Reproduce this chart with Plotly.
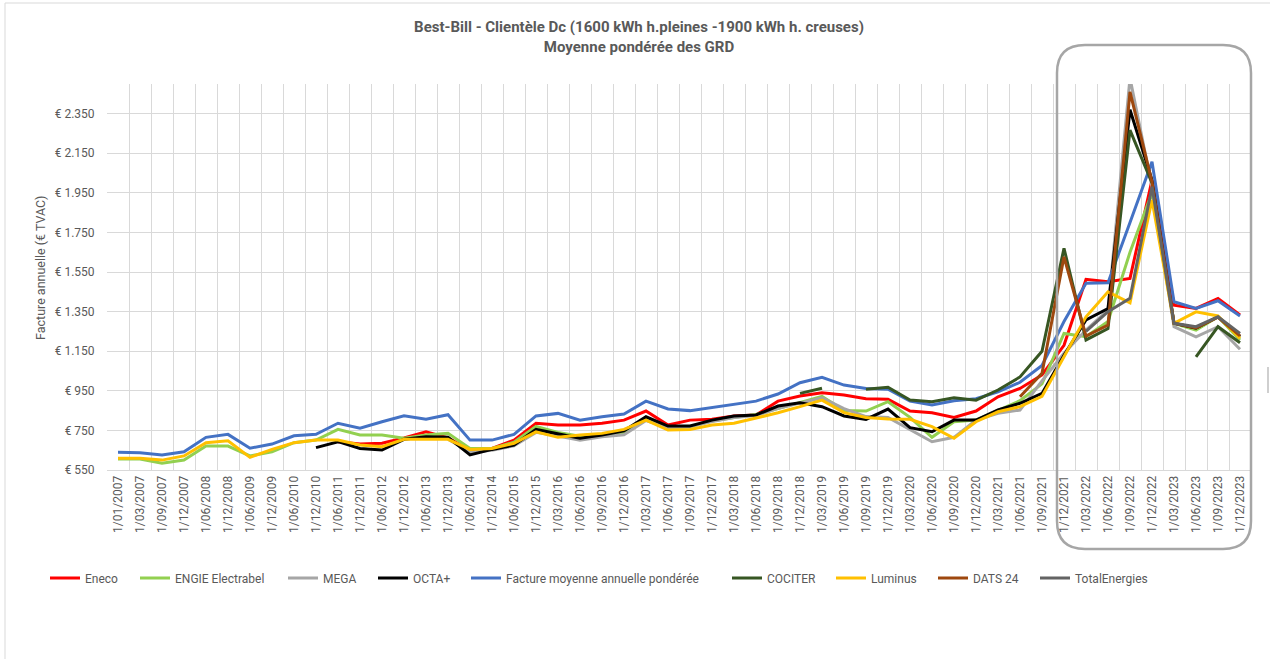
import plotly.graph_objects as go

categories = [
    "1/01/2007", "1/03/2007", "1/09/2007", "1/12/2007",
    "1/06/2008", "1/12/2008", "1/06/2009", "1/12/2009",
    "1/06/2010", "1/12/2010", "1/06/2011", "1/12/2011",
    "1/06/2012", "1/12/2012", "1/06/2013", "1/12/2013",
    "1/06/2014", "1/12/2014", "1/06/2015", "1/12/2015",
    "1/03/2016", "1/06/2016", "1/09/2016", "1/12/2016",
    "1/03/2017", "1/06/2017", "1/09/2017", "1/12/2017",
    "1/03/2018", "1/06/2018", "1/09/2018", "1/12/2018",
    "1/03/2019", "1/06/2019", "1/09/2019", "1/12/2019",
    "1/03/2020", "1/06/2020", "1/09/2020", "1/12/2020",
    "1/03/2021", "1/06/2021", "1/09/2021", "1/12/2021",
    "1/03/2022", "1/06/2022", "1/09/2022", "1/12/2022",
    "1/03/2023", "1/06/2023", "1/09/2023", "1/12/2023",
]

N = None

eneco = [N, N, N, N, N, N, N, N, N, N,
         693, 681, 685, 712, 743, 712, 651, 659, 701, 786,
         777, 777, 786, 802, 848, 777, 802, 806, 823, 828,
         898, 924, 940, 929, 910, 907, 848, 839, 816, 848,
         920, 962, 1030, 1180, 1513, 1501, 1518, 2015, 1383, 1366,
         1417, 1333]

engie = [606, 606, 584, 600, 671, 671, 621, 642, 688, 701,
         755, 727, 727, 710, 727, 735, 659, 659, 690, 770,
         740, 720, 730, 740, 812, 765, 768, 798, 815, 830,
         860, 890, 922, 850, 848, 895, 816, 715, 794, 802,
         853, 900, 985, 1240, 1223, 1300, 1650, 1950, 1291, 1257,
         1324, 1207]

mega = [N, N, N, N, N, N, N, N, N, N,
        N, N, N, N, N, 705, 640, 650, 672, 740,
        722, 700, 718, 728, 800, 765, 768, 795, 815, 825,
        862, 888, 915, 860, 820, 815, 752, 693, 715, 802,
        836, 853, 1000, 1140, 1257, 1358, 2530, 1981, 1274, 1223,
        1274, 1160]

octa = [N, N, N, N, N, N, N, N, N, 663,
        693, 659, 651, 705, 718, 715, 626, 654, 676, 755,
        732, 710, 727, 748, 819, 772, 772, 802, 823, 828,
        873, 890, 870, 823, 806, 858, 764, 743, 802, 802,
        853, 887, 937, 1130, 1308, 1366, 2370, 2015, 1291, 1266,
        1324, 1223]

facture = [640, 637, 626, 642, 715, 730, 660, 681, 723, 730,
           786, 761, 794, 824, 806, 829, 701, 701, 730, 823,
           836, 802, 819, 833, 898, 858, 850, 865, 882, 898,
           934, 991, 1018, 979, 962, 958, 898, 878, 900, 910,
           945, 993, 1078, 1300, 1493, 1496, 1800, 2107, 1400, 1366,
           1405, 1328]

cociter = [N, N, N, N, N, N, N, N, N, N,
           N, N, N, N, N, N, N, N, N, N,
           N, N, N, N, N, N, N, N, N, N,
           N, 937, 963, N, 958, 968, 903, 895, 915, 903,
           954, 1020, 1150, 1670, 1207, 1265, 2267, 2000, N, 1122,
           1274, 1193]

luminus = [609, 609, 600, 621, 688, 698, 614, 654, 688, 701,
           701, 676, 668, 705, 705, 705, 654, 659, 685, 743,
           715, 727, 735, 755, 802, 752, 755, 777, 786, 811,
           839, 870, 903, 840, 815, 808, 806, 769, 710, 794,
           844, 870, 922, 1122, 1324, 1450, 1395, 1914, 1291, 1349,
           1328, 1215]

dats24 = [N] * 41 + [920, 1038, 1627, 1227, 1282, 2460, 2006, 1291, 1268, 1322, 1228]

totalenergies = [N] * 44 + [1250, 1350, 1417, 1981, 1291, 1274, 1324, 1240]

series_names = ["Eneco", "ENGIE Electrabel", "MEGA", "OCTA+",
                "Facture moyenne annuelle pondérée", "COCITER", "Luminus",
                "DATS 24", "TotalEnergies"]
series_values = [eneco, engie, mega, octa, facture, cociter, luminus,
                 dats24, totalenergies]
series_colors = ["#FF0000", "#92D050", "#A6A6A6", "#000000", "#4472C4",
                 "#375623", "#FFC000", "#9E480E", "#636363"]
# left edge (px) of each legend entry's line sample
legend_x_px = [50, 140, 288, 378, 471, 732, 836, 938, 1040]

y_ticks = [550, 750, 950, 1150, 1350, 1550, 1750, 1950, 2150, 2350]
y_ticktext = ["€ " + f"{v:,}".replace(",", ".") for v in y_ticks]

FONT = "Roboto, sans-serif"
TXT = "#595959"

W, H = 1270, 659
PL, PR, PT, PB = 107, 1251, 84, 470

fig = go.Figure()
legend_layout = {}
for k, (name, vals, color) in enumerate(zip(series_names, series_values, series_colors)):
    lid = "legend" if k == 0 else f"legend{k+1}"
    fig.add_trace(go.Scatter(
        x=categories, y=vals, name=name, mode="lines",
        line=dict(color=color, width=3),
        connectgaps=False, legend=lid, showlegend=True,
    ))
    legend_layout[lid] = dict(
        orientation="h", xref="container", yref="container",
        x=(legend_x_px[k] - 5) / W, xanchor="left",
        y=1 - 578 / H, yanchor="middle",
        font=dict(family=FONT, size=12, color=TXT),
        bgcolor="rgba(0,0,0,0)", itemwidth=30, visible=True,
    )


def px_x(p):
    return (p - PL) / (PR - PL)


def px_y(p):
    return (PB - p) / (PB - PT)


# rounded highlight rectangle
x0, x1 = px_x(1057), px_x(1251)
y0, y1 = px_y(549), px_y(45)
rx, ry = 28 / (PR - PL), 28 / (PB - PT)
path = (f"M {x0+rx},{y1} L {x1-rx},{y1} Q {x1},{y1} {x1},{y1-ry} "
        f"L {x1},{y0+ry} Q {x1},{y0} {x1-rx},{y0} "
        f"L {x0+rx},{y0} Q {x0},{y0} {x0},{y0+ry} "
        f"L {x0},{y1-ry} Q {x0},{y1} {x0+rx},{y1} Z")

shapes = [
    dict(type="path", xref="paper", yref="paper", path=path,
         line=dict(color="#A6A6A6", width=2.5), layer="above"),
    dict(type="rect", xref="paper", yref="paper",
         x0=px_x(5), x1=px_x(1400), y0=px_y(800), y1=px_y(3),
         line=dict(color="#D9D9D9", width=1), layer="below"),
    dict(type="line", xref="paper", yref="paper",
         x0=px_x(1268), x1=px_x(1268), y0=px_y(393), y1=px_y(367),
         line=dict(color="#BFBFBF", width=1.5)),
]

fig.update_layout(
    width=W, height=H,
    showlegend=True,
    margin=dict(l=PL, r=W - PR, t=PT, b=H - PB, autoexpand=False),
    paper_bgcolor="white", plot_bgcolor="white",
    font=dict(family=FONT, color=TXT, size=12),
    title=dict(
        text="<b>Best-Bill - Clientèle Dc (1600 kWh h.pleines -1900 kWh h. creuses)</b><br><b>Moyenne pondérée des GRD</b>",
        x=639 / W, xanchor="center", xref="container",
        y=1 - 32 / H, yanchor="top", yref="container",
        font=dict(family=FONT, size=15, color=TXT),
    ),
    xaxis=dict(
        type="category", tickson="boundaries",
        showgrid=True, gridcolor="#D9D9D9", gridwidth=1,
        showline=True, linecolor="#D9D9D9", linewidth=1,
        tickangle=-90, ticks="outside", ticklen=5, tickcolor="rgba(0,0,0,0)",
        tickfont=dict(family=FONT, size=12, color=TXT),
        range=[-0.5, 51.5], automargin=False,
    ),
    yaxis=dict(
        range=[550, 2500],
        tickvals=y_ticks, ticktext=y_ticktext,
        showgrid=True, gridcolor="#D9D9D9", gridwidth=1,
        zeroline=False, showline=False,
        ticks="outside", ticklen=9, tickcolor="rgba(0,0,0,0)",
        tickfont=dict(family=FONT, size=12, color=TXT),
        automargin=False,
    ),
    shapes=shapes,
    annotations=[dict(
        text="Facture annuelle (€ TVAC)", textangle=-90,
        xref="paper", yref="paper", x=px_x(40), y=px_y(268),
        xanchor="center", yanchor="middle", showarrow=False,
        font=dict(family=FONT, size=12.5, color=TXT),
    )],
    **legend_layout,
)

fig.write_html("out.html", config={"displayModeBar": False},
               post_script="document.body.style.margin='0px';")
